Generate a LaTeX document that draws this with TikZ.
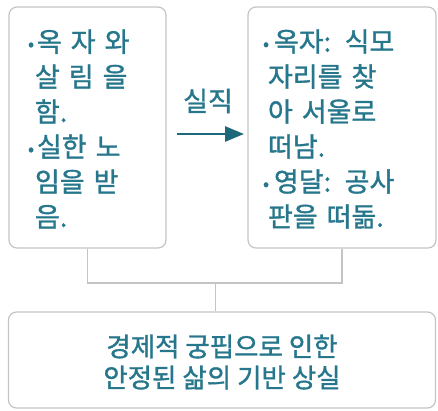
\documentclass[tikz,border=0pt]{standalone}
\usepackage{fontspec}
\setmainfont{Noto Sans CJK KR}[FakeBold=1.2]
\usetikzlibrary{arrows.meta}
\definecolor{txt}{RGB}{38,118,140}
\definecolor{arr}{RGB}{30,104,124}
\definecolor{brd}{RGB}{196,196,196}
\tikzset{
  box/.style={draw=brd, line width=1.2pt, rounded corners=8pt, inner sep=0pt},
  conn/.style={draw=brd, line width=1.2pt},
  body/.style={text=txt, align=left, inner sep=0pt, font=\fontsize{27pt}{35pt}\selectfont},
  bigtxt/.style={text=txt, align=center, inner sep=0pt, font=\fontsize{26.5pt}{31pt}\selectfont},
  lbl/.style={text=txt, inner sep=0pt, font=\fontsize{27pt}{30pt}\selectfont},
  arrowline/.style={draw=arr, line width=2.8pt, -{Triangle[length=19pt,width=15pt]}}
}
\newcommand{\bl}[1]{\makebox[#1][l]{\hspace*{1pt}\raisebox{1.5pt}{\fontsize{18pt}{20pt}\selectfont •}}}
\begin{document}
\begin{tikzpicture}[x=1pt,y=-1pt]
\useasboundingbox (0,0) rectangle (438,410);
% boxes
\node[box, minimum width=157pt, minimum height=241pt] (L) at (87.5,127.5) {};
\node[box, minimum width=188pt, minimum height=241pt] (R) at (342,127.5) {};
\node[box, minimum width=427pt, minimum height=96pt] (B) at (222,360) {};
% texts
\node[body, text width=121pt] (Lt) at (87.5,129) {%
\bl{10pt}\makebox[111pt][s]{옥 자 와}\\
\hspace*{8pt}\makebox[113pt][s]{살 림 을}\\
\hspace*{8pt}함.\\
\bl{10pt}\makebox[111pt][s]{실한 노}\\
\hspace*{8pt}\makebox[113pt][s]{임을 받}\\
\hspace*{8pt}음.};
\node[body, text width=157pt] (Rt) at (340.5,129) {%
\bl{12pt}\makebox[145pt][s]{옥자: 식모}\\
\hspace*{6pt}\makebox[151pt][s]{자리를 찾}\\
\hspace*{6pt}\makebox[151pt][s]{아 서울로}\\
\hspace*{6pt}떠남.\\
\bl{12pt}\makebox[145pt][s]{영달: 공사}\\
\hspace*{6pt}\makebox[130pt][s]{판을 떠돎.}};
\node[bigtxt] (Bt) at (222,362) {경제적 궁핍으로 인한\\안정된 삶의 기반 상실};
% arrow
\node[lbl] (lab) at (208,101) {실직};
\coordinate (as) at (177,134);
\coordinate (ae) at (244,134);
\draw[arrowline] (as) -- (ae);
% connectors
\coordinate (J) at (215.5,283);
\draw[conn] (L.south) |- (J) -| (R.south);
\draw[conn] (J) -- (J |- B.north);
\end{tikzpicture}
\end{document}
